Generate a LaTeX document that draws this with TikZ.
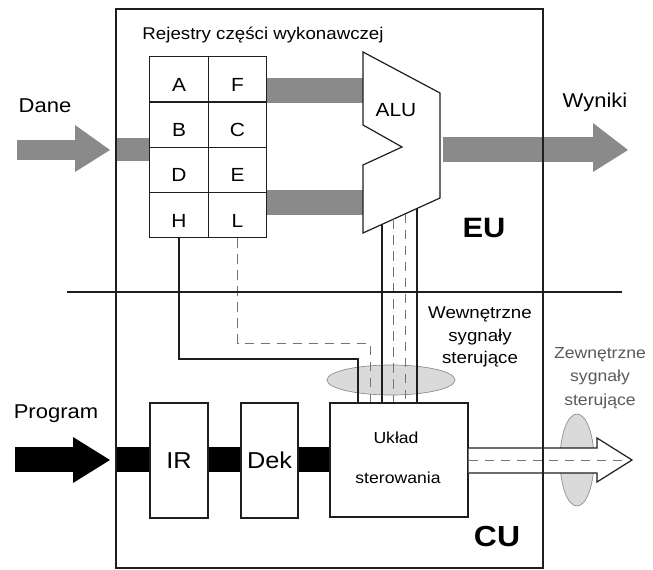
\documentclass[tikz,border=0pt]{standalone}
\usepackage{fontspec}
\setmainfont[FakeStretch=1.1]{Liberation Sans}
\usetikzlibrary{calc}
\definecolor{busgray}{RGB}{138,138,138}
\definecolor{ellgray}{RGB}{218,218,218}
\definecolor{linecol}{RGB}{30,30,30}
\begin{document}
\begin{tikzpicture}[x=0.75pt,y=-0.75pt,line width=0.9pt,draw=linecol,
  bus/.style={fill=busgray,draw=none},
  blackbus/.style={fill=black,draw=none},
  cell/.style={draw=linecol,fill=white,minimum width=43.9pt,minimum height=33.9pt,inner sep=0pt,
    font=\fontsize{14.25}{16}\selectfont,text height=17.7pt,text depth=0pt},
  blockbox/.style={draw=linecol,fill=white,inner sep=0pt},
  lbl/.style={inner sep=0pt,anchor=base},
  ell/.style={fill=ellgray,draw=black!45,line width=0.5pt},
  sigline/.style={draw=linecol,line width=0.9pt},
  dashline/.style={draw=black!55,line width=0.6pt,dash pattern=on 7pt off 5pt}]
\useasboundingbox (0,0) rectangle (653,570);

% ---------- gray data buses (EU) ----------
\fill[bus] (17,140) rectangle (75,160);
\fill[bus] (75,125) -- (110,150) -- (75,172) -- cycle;
\fill[bus] (117,138) rectangle (150,161);
\fill[bus] (267,78) rectangle (363,103);
\fill[bus] (267,190) rectangle (363,215);
\fill[bus] (443,137) rectangle (593,162);
\fill[bus] (593,123) -- (628,150) -- (593,172) -- cycle;

% ---------- black program bus (CU) ----------
\fill[blackbus] (15,447) rectangle (73,472);
\fill[blackbus] (73,437) -- (110,460) -- (73,483) -- cycle;
\fill[blackbus] (117,447) rectangle (330,472);

% ---------- register file ----------
\node[cell] (cA) at (179,79.5) {A};
\node[cell] (cF) at (237.5,79.5) {F};
\node[cell] (cB) at (179,124.75) {B};
\node[cell] (cC) at (237.5,124.75) {C};
\node[cell] (cD) at (179,170) {D};
\node[cell] (cE) at (237.5,170) {E};
\node[cell] (cH) at (179,215.25) {H};
\node[cell] (cL) at (237.5,215.25) {L};

% ---------- ALU ----------
\coordinate (a1) at (363,52);
\coordinate (a2) at (440,93);
\coordinate (a3) at (440,198);
\coordinate (a4) at (363,233);
\coordinate (n1) at (363,125);
\coordinate (n2) at (402,147);
\coordinate (n3) at (363,165);
\draw[fill=white] (a1) -- (a2) -- (a3) -- (a4) -- (n3) -- (n2) -- (n1) -- cycle;
\node[lbl,font=\fontsize{14.25}{16}\selectfont] (alu) at (396,117) {ALU};

% ---------- CU blocks ----------
\node[blockbox,minimum width=43.5pt,minimum height=86.25pt,font=\fontsize{17.25}{20}\selectfont] (ir) at (179,460.5) {IR};
\node[blockbox,minimum width=42.75pt,minimum height=86.25pt,font=\fontsize{17.25}{20}\selectfont] (dek) at (269.5,460.5) {Dek};
\node[blockbox,minimum width=103.5pt,minimum height=85.5pt] (ukl) at (399,460) {};
\node[lbl,font=\fontsize{12}{14}\selectfont] (ukla) at (396,443) {Układ};
\node[lbl,font=\fontsize{12}{14}\selectfont] (uklb) at (398,483) {sterowania};

% ---------- internal control signals ----------
\draw[ell] (391,380) ellipse [x radius=48pt,y radius=11.25pt];
\coordinate (v1) at ($(a4)!0.247!(a3)$);
\coordinate (v2) at ($(a4)!0.390!(a3)$);
\coordinate (v3) at ($(a4)!0.545!(a3)$);
\coordinate (v4) at ($(a4)!0.701!(a3)$);
\draw[sigline] (v1) -- (v1 |- ukl.north);
\draw[sigline] (v4) -- (v4 |- ukl.north);
\draw[dashline] (v2) -- (v2 |- ukl.north);
\draw[dashline] (v3) -- (v3 |- ukl.north);
\coordinate (hturn) at (358,359);
\draw[sigline] (cH.south) |- (hturn) -- (hturn |- ukl.north);
\coordinate (lturn) at (370,343);
\draw[dashline] (cL.south) |- (lturn) -- (lturn |- ukl.north);

% ---------- external control signals ----------
\draw[ell] (577,460) ellipse [x radius=12.75pt,y radius=34.5pt];
\draw[fill=white] (ukl.east |- 0,448) -- (597,448) -- (597,438) -- (632,460) -- (597,482) -- (597,473) -- (ukl.east |- 0,473);
\draw[dashline] (ukl.east |- 0,460) -- (624,460);

% ---------- outer frame and divider ----------
\draw (116,9) rectangle (543,568);
\draw (67,292) -- (622,292);

% ---------- labels ----------
\node[lbl,font=\fontsize{12.75}{15}\selectfont] (rej) at (263,40) {Rejestry części wykonawczej};
\node[lbl,font=\fontsize{15}{18}\selectfont] (dane) at (45,113) {Dane};
\node[lbl,font=\fontsize{15}{18}\selectfont] (wyn) at (595,108) {Wyniki};
\node[lbl,font=\fontsize{15}{18}\selectfont] (prog) at (56,418) {Program};
\node[lbl,font=\bfseries\fontsize{21}{24}\selectfont] (eu) at (484,238) {EU};
\node[lbl,font=\bfseries\fontsize{21.75}{24}\selectfont] (cu) at (497,546) {CU};
\node[align=center,inner sep=0pt,font=\fontsize{12.75}{17}\selectfont] (wew) at (480,337) {Wewnętrzne\\sygnały\\sterujące};
\node[align=center,inner sep=0pt,text=black!65,font=\fontsize{12}{17.6}\selectfont] (zew) at (600,378) {Zewnętrzne\\sygnały\\sterujące};
\end{tikzpicture}
\end{document}
